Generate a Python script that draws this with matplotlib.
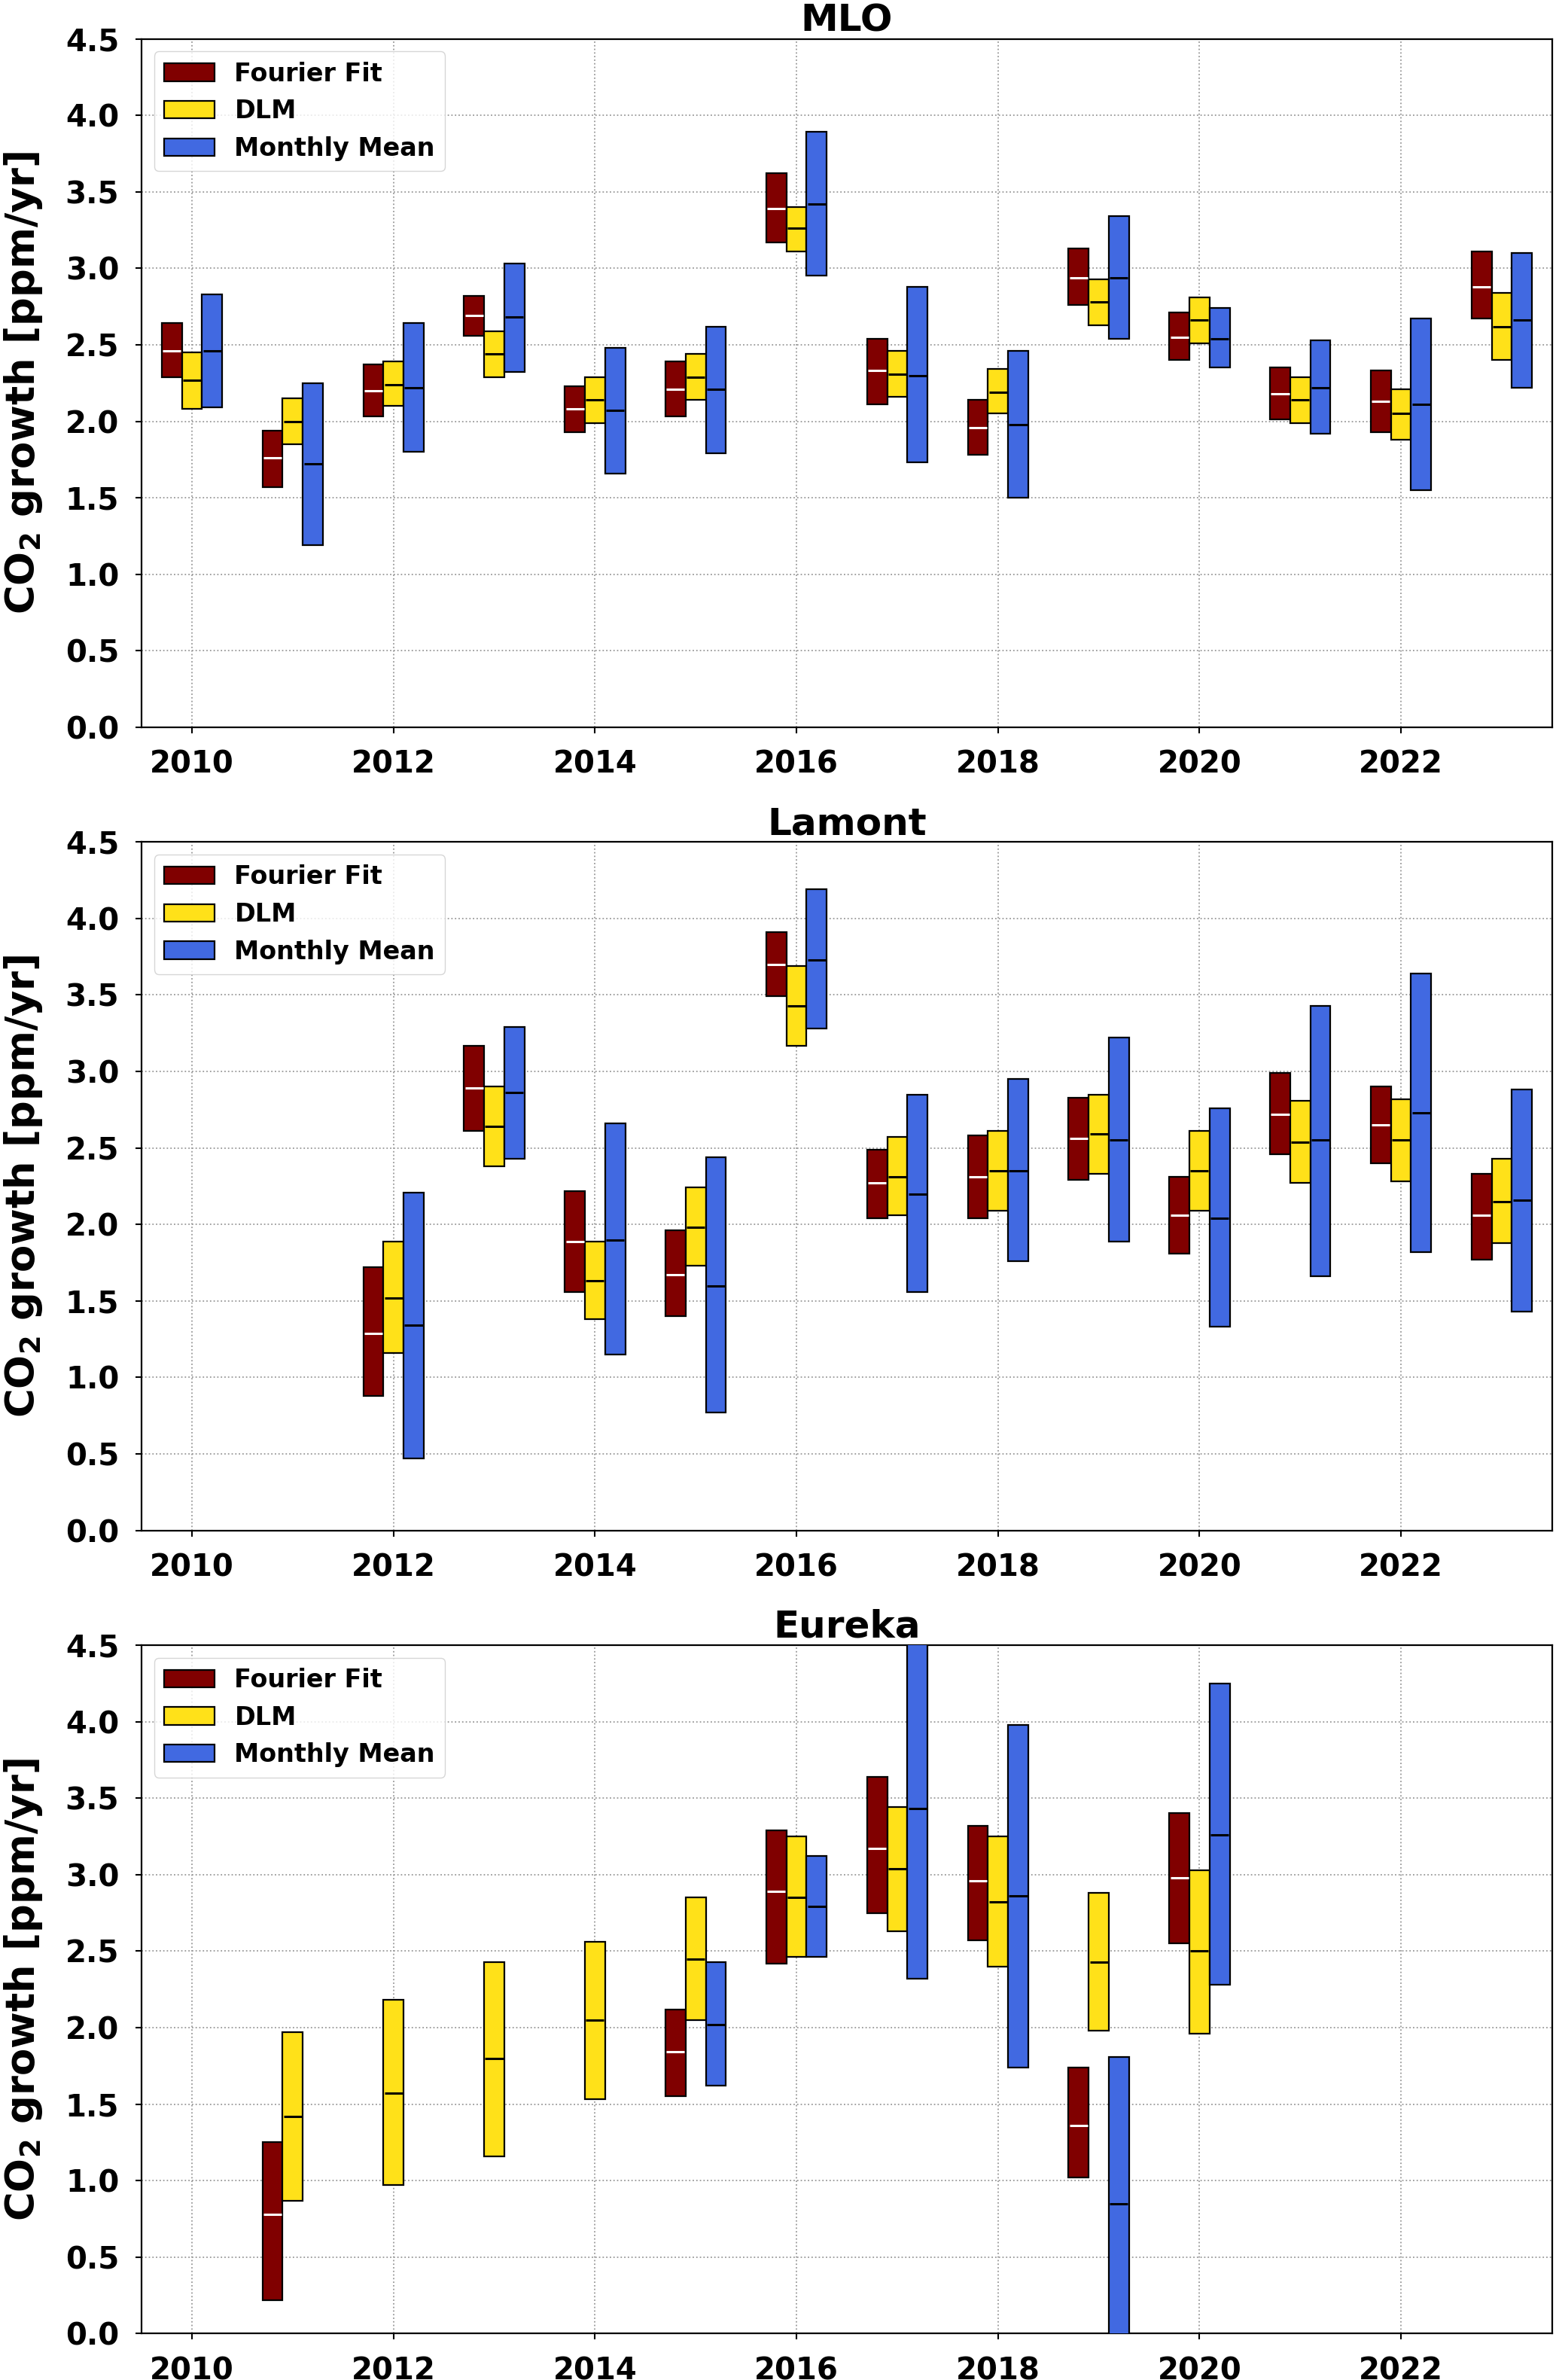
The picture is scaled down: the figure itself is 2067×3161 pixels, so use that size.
import numpy as np
import matplotlib
matplotlib.use('Agg')
import matplotlib.pyplot as plt

nan = np.nan

years = list(range(2010, 2024))
stations = ['MLO', 'Lamont', 'Eureka']

# rows per year: (low, median, high)
mlo_fourier = [(2.29, 2.46, 2.64), (1.57, 1.76, 1.94), (2.03, 2.20, 2.37), (2.56, 2.69, 2.82),
               (1.93, 2.08, 2.23), (2.03, 2.21, 2.39), (3.17, 3.39, 3.62), (2.11, 2.33, 2.54),
               (1.78, 1.96, 2.14), (2.76, 2.94, 3.13), (2.40, 2.55, 2.71), (2.01, 2.18, 2.35),
               (1.93, 2.13, 2.33), (2.67, 2.88, 3.11)]
mlo_dlm = [(2.08, 2.27, 2.45), (1.85, 2.00, 2.15), (2.10, 2.24, 2.39), (2.29, 2.44, 2.59),
           (1.99, 2.14, 2.29), (2.14, 2.29, 2.44), (3.11, 3.26, 3.40), (2.16, 2.31, 2.46),
           (2.05, 2.19, 2.34), (2.63, 2.78, 2.93), (2.51, 2.66, 2.81), (1.99, 2.14, 2.29),
           (1.88, 2.05, 2.21), (2.40, 2.62, 2.84)]
mlo_monthly = [(2.09, 2.46, 2.83), (1.19, 1.72, 2.25), (1.80, 2.22, 2.64), (2.32, 2.68, 3.03),
               (1.66, 2.07, 2.48), (1.79, 2.21, 2.62), (2.95, 3.42, 3.89), (1.73, 2.30, 2.88),
               (1.50, 1.98, 2.46), (2.54, 2.94, 3.34), (2.35, 2.54, 2.74), (1.92, 2.22, 2.53),
               (1.55, 2.11, 2.67), (2.22, 2.66, 3.10)]

lamont_fourier = [(nan, nan, nan), (nan, nan, nan), (0.88, 1.29, 1.72), (2.61, 2.89, 3.17),
                  (1.56, 1.89, 2.22), (1.40, 1.67, 1.96), (3.49, 3.70, 3.91), (2.04, 2.27, 2.49),
                  (2.04, 2.31, 2.58), (2.29, 2.56, 2.83), (1.81, 2.06, 2.31), (2.46, 2.72, 2.99),
                  (2.40, 2.65, 2.90), (1.77, 2.06, 2.33)]
lamont_dlm = [(nan, nan, nan), (nan, nan, nan), (1.16, 1.52, 1.89), (2.38, 2.64, 2.90),
              (1.38, 1.63, 1.89), (1.73, 1.98, 2.24), (3.17, 3.43, 3.69), (2.06, 2.31, 2.57),
              (2.09, 2.35, 2.61), (2.33, 2.59, 2.85), (2.09, 2.35, 2.61), (2.27, 2.54, 2.81),
              (2.28, 2.55, 2.82), (1.88, 2.15, 2.43)]
lamont_monthly = [(nan, nan, nan), (nan, nan, nan), (0.47, 1.34, 2.21), (2.43, 2.86, 3.29),
                  (1.15, 1.90, 2.66), (0.77, 1.60, 2.44), (3.28, 3.73, 4.19), (1.56, 2.20, 2.85),
                  (1.76, 2.35, 2.95), (1.89, 2.55, 3.22), (1.33, 2.04, 2.76), (1.66, 2.55, 3.43),
                  (1.82, 2.73, 3.64), (1.43, 2.16, 2.88)]

eureka_fourier = [(nan, nan, nan), (0.22, 0.78, 1.25), (nan, nan, nan), (nan, nan, nan),
                  (nan, nan, nan), (1.55, 1.84, 2.12), (2.42, 2.89, 3.29), (2.75, 3.17, 3.64),
                  (2.57, 2.96, 3.32), (1.02, 1.36, 1.74), (2.55, 2.98, 3.40), (nan, nan, nan),
                  (nan, nan, nan), (nan, nan, nan)]
eureka_dlm = [(nan, nan, nan), (0.87, 1.42, 1.97), (0.97, 1.57, 2.18), (1.16, 1.80, 2.43),
              (1.53, 2.05, 2.56), (2.05, 2.45, 2.85), (2.46, 2.85, 3.25), (2.63, 3.04, 3.44),
              (2.40, 2.82, 3.25), (1.98, 2.43, 2.88), (1.96, 2.50, 3.03), (nan, nan, nan),
              (nan, nan, nan), (nan, nan, nan)]
eureka_monthly = [(nan, nan, nan), (nan, nan, nan), (nan, nan, nan), (nan, nan, nan),
                  (nan, nan, nan), (1.62, 2.02, 2.43), (2.46, 2.79, 3.12), (2.32, 3.43, 4.60),
                  (1.74, 2.86, 3.98), (-0.10, 0.85, 1.81), (2.28, 3.26, 4.25), (nan, nan, nan),
                  (nan, nan, nan), (nan, nan, nan)]

station_data = {
    'MLO': [mlo_fourier, mlo_dlm, mlo_monthly],
    'Lamont': [lamont_fourier, lamont_dlm, lamont_monthly],
    'Eureka': [eureka_fourier, eureka_dlm, eureka_monthly],
}

methods = ['Fourier Fit', 'DLM', 'Monthly Mean']
colors = ['#800000', '#FFE119', '#4169E1']
median_colors = ['white', 'black', 'black']
offsets = [-0.2, 0.0, 0.2]
width = 0.2

plt.rcParams['font.family'] = 'DejaVu Sans'
plt.rcParams['font.weight'] = 'bold'

fig, axes = plt.subplots(3, 1, figsize=(20.67, 31.61), dpi=100)
fig.subplots_adjust(left=0.091, right=0.9975, top=0.9837, bottom=0.0195, hspace=0.1666)

for ax, name in zip(axes, stations):
    for series, method, col, mcol, off in zip(station_data[name], methods, colors,
                                               median_colors, offsets):
        arr = np.array(series, dtype=float)
        lo, med, hi = arr[:, 0], arr[:, 1], arr[:, 2]
        ok = ~np.isnan(med)
        x = np.array(years, dtype=float)[ok] + off
        ax.bar(x, hi[ok] - lo[ok], bottom=lo[ok], width=width, color=col,
               edgecolor='black', linewidth=1.6, label=method, zorder=3)
        ax.hlines(med[ok], x - width / 2 + 0.01, x + width / 2 - 0.01,
                  colors=mcol, linewidth=2.2, zorder=4)

    ax.set_xlim(2009.5, 2023.5)
    ax.set_ylim(0, 4.5)
    ax.set_xticks(range(2010, 2024, 2))
    ax.set_yticks(np.arange(0, 4.51, 0.5))
    ax.tick_params(axis='both', labelsize=29, width=1.5, length=5.5, pad=16)
    for lbl in ax.get_xticklabels() + ax.get_yticklabels():
        lbl.set_fontweight('bold')
    ax.grid(True, linestyle=':', color='#999999', linewidth=1.3)
    ax.set_axisbelow(True)
    for sp in ax.spines.values():
        sp.set_linewidth(1.6)
    ax.set_title(name, fontsize=36, fontweight='bold', pad=1)
    ax.set_ylabel(r'CO$_\mathbf{2}$ growth [ppm/yr]', fontsize=38, fontweight='bold',
                  labelpad=20)
    ax.legend(loc='upper left', prop={'weight': 'bold', 'size': 24})

plt.savefig('out.png', dpi=100)
plt.close()
